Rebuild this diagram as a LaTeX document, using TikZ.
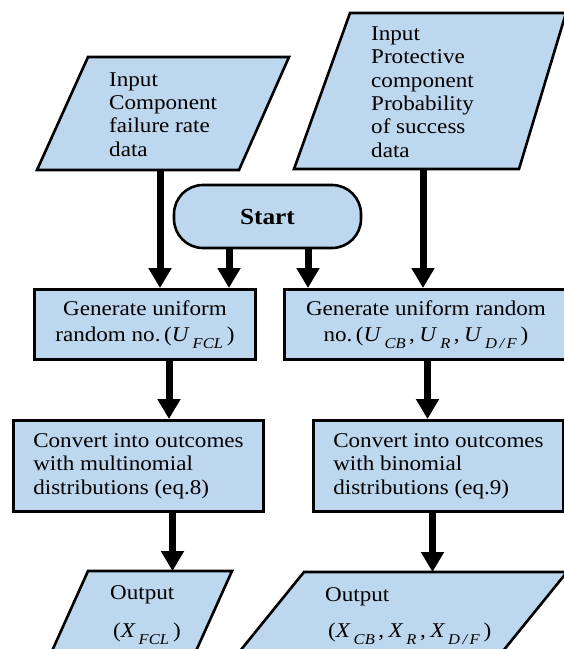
\documentclass[tikz,border=0pt]{standalone}
\usepackage{fontspec}
\setmainfont{Liberation Serif}[FakeStretch=1.1]
\usetikzlibrary{arrows.meta,calc}
\definecolor{boxblue}{RGB}{189,215,238}
% body text size and the small lowered italic subscripts
\newcommand{\mainsize}{\fontsize{21}{23.3}\selectfont}
\newcommand{\startsize}{\fontsize{23}{25}\selectfont}
\newcommand{\vvar}[1]{\textit{#1}}
\newcommand{\vsub}[1]{\hspace{3pt}\raisebox{-7pt}{\fontsize{15}{15}\selectfont\itshape #1}}
\newcommand{\vsep}{\hspace{3.5pt},\hspace{4.5pt}}
\begin{document}
\begin{tikzpicture}[x=1pt,y=-1pt,
  shapebox/.style={draw=black, line width=2.6pt, fill=boxblue},
  boxnode/.style={shapebox, rectangle, inner sep=0pt, font=\mainsize, align=center},
  txtnode/.style={inner sep=0pt, font=\mainsize, align=left},
  flow/.style={line width=7pt, -{Triangle[width=22pt,length=20pt]}},
  ]
\useasboundingbox (0,0) rectangle (564,649);
\clip (0,0) rectangle (564,649);

% input data (parallelograms); text anchored at the baseline of its last line
\filldraw[shapebox] (88,57) -- (289,57) -- (239,170) -- (37,170) -- cycle;
\node[txtnode, anchor=base west] (in1) at (109,156)
  {Input\\Component\\failure rate\\data};
\filldraw[shapebox] (350,13) -- (566,13) -- (519,169) -- (294,169) -- cycle;
\node[txtnode, anchor=base west] (in2) at (371,157)
  {Input\\Protective\\component\\Probability\\of success\\data};
\coordinate (in1out) at (160,170);
\coordinate (in2out) at (423,169);

% start terminal
\node[shapebox, rounded corners=29pt, minimum width=187pt, minimum height=63pt,
  inner sep=0pt, font=\startsize] (start) at (267.5,216.5) {\textbf{Start}};

% random number generation
\node[boxnode, minimum width=221.4pt, minimum height=70.4pt] (gen1) at (145,324.5)
  {Generate uniform\\[3pt]random no.\,(\vvar{U}\vsub{FCL}\hspace{4pt})};
\node[boxnode, minimum width=283.4pt, minimum height=70.4pt] (gen2) at (426,324.5)
  {Generate uniform random\\[3pt]no.\,(\vvar{U}\vsub{CB}\vsep\vvar{U}\vsub{R}\vsep\vvar{U}\vsub{D\,/\,F}\hspace{4pt})};

% conversion to outcomes
\node[boxnode, align=left, minimum width=250.4pt, minimum height=91.4pt] (conv1) at (138.5,466)
  {Convert into outcomes\\with multinomial\\distributions (eq.8)};
\node[boxnode, align=left, minimum width=250.4pt, minimum height=91.4pt] (conv2) at (438.5,466)
  {Convert into outcomes\\with binomial\\distributions (eq.9)};

% outputs (parallelograms)
\filldraw[shapebox] (88,571) -- (232,571) -- (187,671) -- (43,671) -- cycle;
\node[txtnode, anchor=base west] (out1) at (110,637)
  {Output\\[14.7pt]\hspace{3pt}(\vvar{X}\vsub{FCL}\hspace{4pt})};
\filldraw[shapebox] (304,572) -- (567,572) -- (486,672) -- (223,672) -- cycle;
\node[txtnode, anchor=base west] (out2) at (325,637)
  {Output\\[12.7pt]\hspace{3pt}(\vvar{X}\vsub{CB}\vsep\vvar{X}\vsub{R}\vsep\vvar{X}\vsub{D\,/\,F}\hspace{4pt})};
\coordinate (out1in) at (172.5,571);
\coordinate (out2in) at (432.5,572);

% flow arrows
\draw[flow] (in1out) -- (in1out |- gen1.north);
\draw[flow] ([xshift=-38.5pt]start.south) -- ([xshift=-38.5pt]start.south |- gen1.north);
\draw[flow] ([xshift=40.5pt]start.south) -- ([xshift=40.5pt]start.south |- gen2.north);
\draw[flow] (in2out) -- (in2out |- gen2.north);
\draw[flow] ([xshift=24pt]gen1.south) -- ([xshift=24pt]gen1.south |- conv1.north);
\draw[flow] ([xshift=1.5pt]gen2.south) -- ([xshift=1.5pt]gen2.south |- conv2.north);
\draw[flow] (conv1.south -| out1in) -- (out1in);
\draw[flow] (conv2.south -| out2in) -- (out2in);
\end{tikzpicture}
\end{document}
